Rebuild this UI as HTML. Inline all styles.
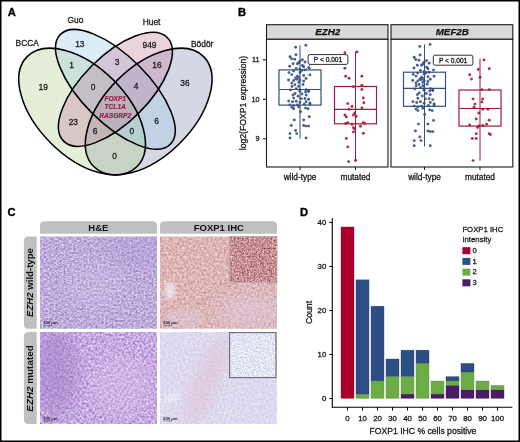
<!DOCTYPE html>
<html><head><meta charset="utf-8"><style>
html,body{margin:0;padding:0;background:#fff;position:relative;}
svg{display:block;}
text{font-family:"Liberation Sans",sans-serif;}
</style></head><body>
<svg width="520" height="442" viewBox="0 0 520 442">
<defs>
<filter id="blur2" x="-50%" y="-50%" width="200%" height="200%"><feGaussianBlur stdDeviation="2"/></filter>
<filter id="blur3" x="-50%" y="-50%" width="200%" height="200%"><feGaussianBlur stdDeviation="3"/></filter>
<filter id="blur5" x="-50%" y="-50%" width="200%" height="200%"><feGaussianBlur stdDeviation="5"/></filter>
<filter id="blur8" x="-50%" y="-50%" width="200%" height="200%"><feGaussianBlur stdDeviation="8"/></filter>
<filter id="t11" x="0" y="0" width="1" height="1" color-interpolation-filters="sRGB"><feTurbulence type="fractalNoise" baseFrequency="0.5" numOctaves="2" seed="11"/><feColorMatrix type="matrix" values="0.505 0 0 0 0.485 0.571 0 0 0 0.389 0.346 0 0 0 0.682 0 0 0 0 1"/><feGaussianBlur stdDeviation="0.35"/></filter>
<filter id="t21" x="0" y="0" width="1" height="1" color-interpolation-filters="sRGB"><feTurbulence type="fractalNoise" baseFrequency="0.45" numOctaves="2" seed="21"/><feColorMatrix type="matrix" values="0.541 0 0 0 0.506 0.671 0 0 0 0.331 0.353 0 0 0 0.702 0 0 0 0 1"/><feGaussianBlur stdDeviation="0.35"/></filter>
<filter id="t31" x="0" y="0" width="1" height="1" color-interpolation-filters="sRGB"><feTurbulence type="fractalNoise" baseFrequency="0.45" numOctaves="2" seed="31"/><feColorMatrix type="matrix" values="0.296 0 0 0 0.715 0.489 0 0 0 0.465 0.513 0 0 0 0.449 0 0 0 0 1"/><feGaussianBlur stdDeviation="0.35"/></filter>
<filter id="t41" x="0" y="0" width="1" height="1" color-interpolation-filters="sRGB"><feTurbulence type="fractalNoise" baseFrequency="0.45" numOctaves="2" seed="41"/><feColorMatrix type="matrix" values="0.180 0 0 0 0.780 0.196 0 0 0 0.757 0.118 0 0 0 0.882 0 0 0 0 1"/><feGaussianBlur stdDeviation="0.35"/></filter>
<filter id="t61" x="0" y="0" width="1" height="1" color-interpolation-filters="sRGB"><feTurbulence type="fractalNoise" baseFrequency="0.6" numOctaves="2" seed="61"/><feColorMatrix type="matrix" values="0.718 0 0 0 0.410 0.900 0 0 0 0.107 0.865 0 0 0 0.140 0 0 0 0 1"/><feGaussianBlur stdDeviation="0.35"/></filter>
<filter id="t71" x="0" y="0" width="1" height="1" color-interpolation-filters="sRGB"><feTurbulence type="fractalNoise" baseFrequency="0.7" numOctaves="2" seed="71"/><feColorMatrix type="matrix" values="0.439 0 0 0 0.675 0.428 0 0 0 0.680 0.275 0 0 0 0.820 0 0 0 0 1"/><feGaussianBlur stdDeviation="0.35"/></filter>
</defs>
<rect x="0" y="0" width="520" height="442" fill="#fff"/>

<ellipse cx="148.70" cy="111.56" rx="77.70" ry="44.40" transform="rotate(-45 148.70 111.56)" fill="rgb(120,130,170)" fill-opacity="0.315"/>
<ellipse cx="82.10" cy="111.56" rx="77.70" ry="44.40" transform="rotate(-135 82.10 111.56)" fill="rgb(168,202,132)" fill-opacity="0.315"/>
<ellipse cx="115.40" cy="89.36" rx="77.70" ry="33.30" transform="rotate(-135 115.40 89.36)" fill="rgb(147,199,228)" fill-opacity="0.315"/>
<ellipse cx="115.40" cy="89.36" rx="73.26" ry="33.30" transform="rotate(-45 115.40 89.36)" fill="rgb(192,114,151)" fill-opacity="0.315"/>
<ellipse cx="82.10" cy="111.56" rx="77.70" ry="44.40" transform="rotate(-135 82.10 111.56)" fill="none" stroke="#000" stroke-width="1.55"/>
<ellipse cx="115.40" cy="89.36" rx="77.70" ry="33.30" transform="rotate(-135 115.40 89.36)" fill="none" stroke="#000" stroke-width="1.55"/>
<ellipse cx="115.40" cy="89.36" rx="73.26" ry="33.30" transform="rotate(-45 115.40 89.36)" fill="none" stroke="#000" stroke-width="1.55"/>
<ellipse cx="148.70" cy="111.56" rx="77.70" ry="44.40" transform="rotate(-45 148.70 111.56)" fill="none" stroke="#000" stroke-width="1.55"/>
<rect x="266.5" y="24.7" width="121.5" height="14.6" fill="#d9d9d9" stroke="#1a1a1a" stroke-width="1.1"/>
<rect x="266.5" y="39.3" width="121.5" height="127.7" fill="#fff" stroke="#1a1a1a" stroke-width="1.1"/>
<line x1="300.0" y1="45.4" x2="300.0" y2="138.5" stroke="#34507f" stroke-width="1.0"/>
<rect x="279.0" y="69.9" width="42" height="35.19999999999999" fill="#fff" fill-opacity="0" stroke="#34507f" stroke-width="1.2"/>
<line x1="279.0" y1="89.5" x2="321.0" y2="89.5" stroke="#34507f" stroke-width="1.2"/>
<circle cx="295.6" cy="47.2" r="1.45" fill="#34507f" fill-opacity="0.9"/>
<circle cx="305.9" cy="45.2" r="1.45" fill="#34507f" fill-opacity="0.9"/>
<circle cx="295.9" cy="54.7" r="1.45" fill="#34507f" fill-opacity="0.9"/>
<circle cx="290.0" cy="56.8" r="1.45" fill="#34507f" fill-opacity="0.9"/>
<circle cx="291.5" cy="58.7" r="1.45" fill="#34507f" fill-opacity="0.9"/>
<circle cx="294.7" cy="59.3" r="1.45" fill="#34507f" fill-opacity="0.9"/>
<circle cx="302.4" cy="59.7" r="1.45" fill="#34507f" fill-opacity="0.9"/>
<circle cx="299.9" cy="61.2" r="1.45" fill="#34507f" fill-opacity="0.9"/>
<circle cx="293.1" cy="63.7" r="1.45" fill="#34507f" fill-opacity="0.9"/>
<circle cx="297.4" cy="63.7" r="1.45" fill="#34507f" fill-opacity="0.9"/>
<circle cx="298.7" cy="62.7" r="1.45" fill="#34507f" fill-opacity="0.9"/>
<circle cx="289.7" cy="66.2" r="1.45" fill="#34507f" fill-opacity="0.9"/>
<circle cx="302.4" cy="65.5" r="1.45" fill="#34507f" fill-opacity="0.9"/>
<circle cx="303.7" cy="66.8" r="1.45" fill="#34507f" fill-opacity="0.9"/>
<circle cx="296.2" cy="68.4" r="1.45" fill="#34507f" fill-opacity="0.9"/>
<circle cx="299.9" cy="69.3" r="1.45" fill="#34507f" fill-opacity="0.9"/>
<circle cx="301.8" cy="70.5" r="1.45" fill="#34507f" fill-opacity="0.9"/>
<circle cx="304.9" cy="69.9" r="1.45" fill="#34507f" fill-opacity="0.9"/>
<circle cx="309.3" cy="68.0" r="1.45" fill="#34507f" fill-opacity="0.9"/>
<circle cx="289.0" cy="72.6" r="1.45" fill="#34507f" fill-opacity="0.9"/>
<circle cx="291.8" cy="74.6" r="1.45" fill="#34507f" fill-opacity="0.9"/>
<circle cx="297.4" cy="76.1" r="1.45" fill="#34507f" fill-opacity="0.9"/>
<circle cx="298.7" cy="77.4" r="1.45" fill="#34507f" fill-opacity="0.9"/>
<circle cx="303.7" cy="75.5" r="1.45" fill="#34507f" fill-opacity="0.9"/>
<circle cx="309.9" cy="74.9" r="1.45" fill="#34507f" fill-opacity="0.9"/>
<circle cx="295.6" cy="78.0" r="1.45" fill="#34507f" fill-opacity="0.9"/>
<circle cx="296.8" cy="79.2" r="1.45" fill="#34507f" fill-opacity="0.9"/>
<circle cx="299.9" cy="79.9" r="1.45" fill="#34507f" fill-opacity="0.9"/>
<circle cx="293.7" cy="80.5" r="1.45" fill="#34507f" fill-opacity="0.9"/>
<circle cx="303.7" cy="81.1" r="1.45" fill="#34507f" fill-opacity="0.9"/>
<circle cx="291.8" cy="83.0" r="1.45" fill="#34507f" fill-opacity="0.9"/>
<circle cx="298.7" cy="82.3" r="1.45" fill="#34507f" fill-opacity="0.9"/>
<circle cx="294.9" cy="84.8" r="1.45" fill="#34507f" fill-opacity="0.9"/>
<circle cx="298.7" cy="86.3" r="1.45" fill="#34507f" fill-opacity="0.9"/>
<circle cx="296.2" cy="88.6" r="1.45" fill="#34507f" fill-opacity="0.9"/>
<circle cx="299.9" cy="89.8" r="1.45" fill="#34507f" fill-opacity="0.9"/>
<circle cx="306.1" cy="89.8" r="1.45" fill="#34507f" fill-opacity="0.9"/>
<circle cx="308.6" cy="91.1" r="1.45" fill="#34507f" fill-opacity="0.9"/>
<circle cx="299.9" cy="91.2" r="1.45" fill="#34507f" fill-opacity="0.9"/>
<circle cx="305.5" cy="91.9" r="1.45" fill="#34507f" fill-opacity="0.9"/>
<circle cx="308.6" cy="91.5" r="1.45" fill="#34507f" fill-opacity="0.9"/>
<circle cx="293.1" cy="95.0" r="1.45" fill="#34507f" fill-opacity="0.9"/>
<circle cx="298.1" cy="96.2" r="1.45" fill="#34507f" fill-opacity="0.9"/>
<circle cx="306.1" cy="95.0" r="1.45" fill="#34507f" fill-opacity="0.9"/>
<circle cx="293.7" cy="98.1" r="1.45" fill="#34507f" fill-opacity="0.9"/>
<circle cx="301.2" cy="98.7" r="1.45" fill="#34507f" fill-opacity="0.9"/>
<circle cx="304.9" cy="98.5" r="1.45" fill="#34507f" fill-opacity="0.9"/>
<circle cx="308.6" cy="99.3" r="1.45" fill="#34507f" fill-opacity="0.9"/>
<circle cx="288.7" cy="101.0" r="1.45" fill="#34507f" fill-opacity="0.9"/>
<circle cx="292.5" cy="101.8" r="1.45" fill="#34507f" fill-opacity="0.9"/>
<circle cx="296.2" cy="101.2" r="1.45" fill="#34507f" fill-opacity="0.9"/>
<circle cx="299.9" cy="102.5" r="1.45" fill="#34507f" fill-opacity="0.9"/>
<circle cx="306.1" cy="101.8" r="1.45" fill="#34507f" fill-opacity="0.9"/>
<circle cx="309.9" cy="103.1" r="1.45" fill="#34507f" fill-opacity="0.9"/>
<circle cx="290.0" cy="104.9" r="1.45" fill="#34507f" fill-opacity="0.9"/>
<circle cx="293.7" cy="105.6" r="1.45" fill="#34507f" fill-opacity="0.9"/>
<circle cx="297.4" cy="104.9" r="1.45" fill="#34507f" fill-opacity="0.9"/>
<circle cx="304.3" cy="104.3" r="1.45" fill="#34507f" fill-opacity="0.9"/>
<circle cx="309.9" cy="104.3" r="1.45" fill="#34507f" fill-opacity="0.9"/>
<circle cx="291.8" cy="107.4" r="1.45" fill="#34507f" fill-opacity="0.9"/>
<circle cx="298.7" cy="106.8" r="1.45" fill="#34507f" fill-opacity="0.9"/>
<circle cx="305.5" cy="108.1" r="1.45" fill="#34507f" fill-opacity="0.9"/>
<circle cx="308.0" cy="108.7" r="1.45" fill="#34507f" fill-opacity="0.9"/>
<circle cx="293.7" cy="108.7" r="1.45" fill="#34507f" fill-opacity="0.9"/>
<circle cx="300.5" cy="111.8" r="1.45" fill="#34507f" fill-opacity="0.9"/>
<circle cx="309.3" cy="116.8" r="1.45" fill="#34507f" fill-opacity="0.9"/>
<circle cx="294.3" cy="119.9" r="1.45" fill="#34507f" fill-opacity="0.9"/>
<circle cx="303.7" cy="119.9" r="1.45" fill="#34507f" fill-opacity="0.9"/>
<circle cx="291.2" cy="125.5" r="1.45" fill="#34507f" fill-opacity="0.9"/>
<circle cx="303.7" cy="125.5" r="1.45" fill="#34507f" fill-opacity="0.9"/>
<circle cx="306.1" cy="126.1" r="1.45" fill="#34507f" fill-opacity="0.9"/>
<circle cx="308.6" cy="126.1" r="1.45" fill="#34507f" fill-opacity="0.9"/>
<circle cx="295.6" cy="130.5" r="1.45" fill="#34507f" fill-opacity="0.9"/>
<circle cx="296.8" cy="133.6" r="1.45" fill="#34507f" fill-opacity="0.9"/>
<circle cx="290.0" cy="133.6" r="1.45" fill="#34507f" fill-opacity="0.9"/>
<circle cx="290.0" cy="137.9" r="1.45" fill="#34507f" fill-opacity="0.9"/>
<circle cx="306.1" cy="137.9" r="1.45" fill="#34507f" fill-opacity="0.9"/>
<circle cx="292.0" cy="86.5" r="1.45" fill="#34507f" fill-opacity="0.9"/>
<circle cx="303.0" cy="84.5" r="1.45" fill="#34507f" fill-opacity="0.9"/>
<circle cx="295.0" cy="93.5" r="1.45" fill="#34507f" fill-opacity="0.9"/>
<circle cx="302.0" cy="94.0" r="1.45" fill="#34507f" fill-opacity="0.9"/>
<circle cx="290.5" cy="90.0" r="1.45" fill="#34507f" fill-opacity="0.9"/>
<circle cx="300.0" cy="72.5" r="1.45" fill="#34507f" fill-opacity="0.9"/>
<circle cx="293.5" cy="71.0" r="1.45" fill="#34507f" fill-opacity="0.9"/>
<circle cx="306.0" cy="78.5" r="1.45" fill="#34507f" fill-opacity="0.9"/>
<circle cx="288.5" cy="80.0" r="1.45" fill="#34507f" fill-opacity="0.9"/>
<circle cx="305.0" cy="62.0" r="1.45" fill="#34507f" fill-opacity="0.9"/>
<line x1="355.5" y1="51.7" x2="355.5" y2="160.8" stroke="#a0193c" stroke-width="1.0"/>
<rect x="334.5" y="86.5" width="42" height="37.3" fill="#fff" fill-opacity="0" stroke="#a0193c" stroke-width="1.2"/>
<line x1="334.5" y1="109.4" x2="376.5" y2="109.4" stroke="#a0193c" stroke-width="1.2"/>
<circle cx="344.9" cy="52.7" r="1.45" fill="#a0193c" fill-opacity="0.9"/>
<circle cx="357.0" cy="51.9" r="1.45" fill="#a0193c" fill-opacity="0.9"/>
<circle cx="344.9" cy="68.3" r="1.45" fill="#a0193c" fill-opacity="0.9"/>
<circle cx="345.7" cy="76.2" r="1.45" fill="#a0193c" fill-opacity="0.9"/>
<circle cx="349.1" cy="78.2" r="1.45" fill="#a0193c" fill-opacity="0.9"/>
<circle cx="361.9" cy="76.2" r="1.45" fill="#a0193c" fill-opacity="0.9"/>
<circle cx="353.4" cy="86.7" r="1.45" fill="#a0193c" fill-opacity="0.9"/>
<circle cx="361.9" cy="85.2" r="1.45" fill="#a0193c" fill-opacity="0.9"/>
<circle cx="361.9" cy="89.5" r="1.45" fill="#a0193c" fill-opacity="0.9"/>
<circle cx="363.3" cy="98.0" r="1.45" fill="#a0193c" fill-opacity="0.9"/>
<circle cx="347.7" cy="103.6" r="1.45" fill="#a0193c" fill-opacity="0.9"/>
<circle cx="352.0" cy="106.5" r="1.45" fill="#a0193c" fill-opacity="0.9"/>
<circle cx="363.8" cy="102.8" r="1.45" fill="#a0193c" fill-opacity="0.9"/>
<circle cx="361.9" cy="107.9" r="1.45" fill="#a0193c" fill-opacity="0.9"/>
<circle cx="349.1" cy="109.3" r="1.45" fill="#a0193c" fill-opacity="0.9"/>
<circle cx="344.9" cy="115.0" r="1.45" fill="#a0193c" fill-opacity="0.9"/>
<circle cx="354.8" cy="113.0" r="1.45" fill="#a0193c" fill-opacity="0.9"/>
<circle cx="353.4" cy="115.0" r="1.45" fill="#a0193c" fill-opacity="0.9"/>
<circle cx="356.2" cy="116.4" r="1.45" fill="#a0193c" fill-opacity="0.9"/>
<circle cx="346.3" cy="116.9" r="1.45" fill="#a0193c" fill-opacity="0.9"/>
<circle cx="347.7" cy="122.6" r="1.45" fill="#a0193c" fill-opacity="0.9"/>
<circle cx="345.7" cy="123.4" r="1.45" fill="#a0193c" fill-opacity="0.9"/>
<circle cx="352.0" cy="124.3" r="1.45" fill="#a0193c" fill-opacity="0.9"/>
<circle cx="363.3" cy="122.6" r="1.45" fill="#a0193c" fill-opacity="0.9"/>
<circle cx="364.7" cy="123.4" r="1.45" fill="#a0193c" fill-opacity="0.9"/>
<circle cx="353.4" cy="127.7" r="1.45" fill="#a0193c" fill-opacity="0.9"/>
<circle cx="354.8" cy="129.1" r="1.45" fill="#a0193c" fill-opacity="0.9"/>
<circle cx="360.5" cy="126.3" r="1.45" fill="#a0193c" fill-opacity="0.9"/>
<circle cx="353.4" cy="131.9" r="1.45" fill="#a0193c" fill-opacity="0.9"/>
<circle cx="363.3" cy="133.3" r="1.45" fill="#a0193c" fill-opacity="0.9"/>
<circle cx="346.3" cy="138.4" r="1.45" fill="#a0193c" fill-opacity="0.9"/>
<circle cx="347.7" cy="146.9" r="1.45" fill="#a0193c" fill-opacity="0.9"/>
<circle cx="348.6" cy="161.6" r="1.45" fill="#a0193c" fill-opacity="0.9"/>
<circle cx="355.7" cy="160.5" r="1.45" fill="#a0193c" fill-opacity="0.9"/>
<line x1="300.0" y1="167" x2="300.0" y2="170" stroke="#1a1a1a" stroke-width="1"/>
<line x1="355.5" y1="167" x2="355.5" y2="170" stroke="#1a1a1a" stroke-width="1"/>
<rect x="391.0" y="24.7" width="121.79999999999995" height="14.6" fill="#d9d9d9" stroke="#1a1a1a" stroke-width="1.1"/>
<rect x="391.0" y="39.3" width="121.79999999999995" height="127.7" fill="#fff" stroke="#1a1a1a" stroke-width="1.1"/>
<line x1="424.5" y1="44.4" x2="424.5" y2="146.5" stroke="#34507f" stroke-width="1.0"/>
<rect x="403.5" y="72.2" width="42" height="34.099999999999994" fill="#fff" fill-opacity="0" stroke="#34507f" stroke-width="1.2"/>
<line x1="403.5" y1="88.3" x2="445.5" y2="88.3" stroke="#34507f" stroke-width="1.2"/>
<circle cx="419.8" cy="46.4" r="1.45" fill="#34507f" fill-opacity="0.9"/>
<circle cx="430.1" cy="44.4" r="1.45" fill="#34507f" fill-opacity="0.9"/>
<circle cx="420.1" cy="55.0" r="1.45" fill="#34507f" fill-opacity="0.9"/>
<circle cx="414.2" cy="57.3" r="1.45" fill="#34507f" fill-opacity="0.9"/>
<circle cx="415.7" cy="59.5" r="1.45" fill="#34507f" fill-opacity="0.9"/>
<circle cx="418.9" cy="60.2" r="1.45" fill="#34507f" fill-opacity="0.9"/>
<circle cx="426.6" cy="60.6" r="1.45" fill="#34507f" fill-opacity="0.9"/>
<circle cx="424.1" cy="62.3" r="1.45" fill="#34507f" fill-opacity="0.9"/>
<circle cx="417.3" cy="65.2" r="1.45" fill="#34507f" fill-opacity="0.9"/>
<circle cx="421.6" cy="65.2" r="1.45" fill="#34507f" fill-opacity="0.9"/>
<circle cx="422.9" cy="64.0" r="1.45" fill="#34507f" fill-opacity="0.9"/>
<circle cx="413.9" cy="68.0" r="1.45" fill="#34507f" fill-opacity="0.9"/>
<circle cx="426.6" cy="67.2" r="1.45" fill="#34507f" fill-opacity="0.9"/>
<circle cx="427.9" cy="68.7" r="1.45" fill="#34507f" fill-opacity="0.9"/>
<circle cx="420.4" cy="70.5" r="1.45" fill="#34507f" fill-opacity="0.9"/>
<circle cx="424.1" cy="71.5" r="1.45" fill="#34507f" fill-opacity="0.9"/>
<circle cx="426.0" cy="72.7" r="1.45" fill="#34507f" fill-opacity="0.9"/>
<circle cx="429.1" cy="72.2" r="1.45" fill="#34507f" fill-opacity="0.9"/>
<circle cx="433.5" cy="70.0" r="1.45" fill="#34507f" fill-opacity="0.9"/>
<circle cx="413.2" cy="74.4" r="1.45" fill="#34507f" fill-opacity="0.9"/>
<circle cx="416.0" cy="76.1" r="1.45" fill="#34507f" fill-opacity="0.9"/>
<circle cx="421.6" cy="77.3" r="1.45" fill="#34507f" fill-opacity="0.9"/>
<circle cx="422.9" cy="78.4" r="1.45" fill="#34507f" fill-opacity="0.9"/>
<circle cx="427.9" cy="76.8" r="1.45" fill="#34507f" fill-opacity="0.9"/>
<circle cx="434.1" cy="76.3" r="1.45" fill="#34507f" fill-opacity="0.9"/>
<circle cx="419.8" cy="78.9" r="1.45" fill="#34507f" fill-opacity="0.9"/>
<circle cx="421.0" cy="79.8" r="1.45" fill="#34507f" fill-opacity="0.9"/>
<circle cx="424.1" cy="80.4" r="1.45" fill="#34507f" fill-opacity="0.9"/>
<circle cx="417.9" cy="80.9" r="1.45" fill="#34507f" fill-opacity="0.9"/>
<circle cx="427.9" cy="81.4" r="1.45" fill="#34507f" fill-opacity="0.9"/>
<circle cx="416.0" cy="83.0" r="1.45" fill="#34507f" fill-opacity="0.9"/>
<circle cx="422.9" cy="82.4" r="1.45" fill="#34507f" fill-opacity="0.9"/>
<circle cx="419.1" cy="84.4" r="1.45" fill="#34507f" fill-opacity="0.9"/>
<circle cx="422.9" cy="85.7" r="1.45" fill="#34507f" fill-opacity="0.9"/>
<circle cx="420.4" cy="87.6" r="1.45" fill="#34507f" fill-opacity="0.9"/>
<circle cx="424.1" cy="88.6" r="1.45" fill="#34507f" fill-opacity="0.9"/>
<circle cx="430.3" cy="88.6" r="1.45" fill="#34507f" fill-opacity="0.9"/>
<circle cx="432.8" cy="90.1" r="1.45" fill="#34507f" fill-opacity="0.9"/>
<circle cx="424.1" cy="90.3" r="1.45" fill="#34507f" fill-opacity="0.9"/>
<circle cx="429.7" cy="91.1" r="1.45" fill="#34507f" fill-opacity="0.9"/>
<circle cx="432.8" cy="90.6" r="1.45" fill="#34507f" fill-opacity="0.9"/>
<circle cx="417.3" cy="94.6" r="1.45" fill="#34507f" fill-opacity="0.9"/>
<circle cx="422.3" cy="96.0" r="1.45" fill="#34507f" fill-opacity="0.9"/>
<circle cx="430.3" cy="94.6" r="1.45" fill="#34507f" fill-opacity="0.9"/>
<circle cx="417.9" cy="98.2" r="1.45" fill="#34507f" fill-opacity="0.9"/>
<circle cx="425.4" cy="98.9" r="1.45" fill="#34507f" fill-opacity="0.9"/>
<circle cx="429.1" cy="98.7" r="1.45" fill="#34507f" fill-opacity="0.9"/>
<circle cx="432.8" cy="99.6" r="1.45" fill="#34507f" fill-opacity="0.9"/>
<circle cx="412.9" cy="101.6" r="1.45" fill="#34507f" fill-opacity="0.9"/>
<circle cx="416.7" cy="102.5" r="1.45" fill="#34507f" fill-opacity="0.9"/>
<circle cx="420.4" cy="101.8" r="1.45" fill="#34507f" fill-opacity="0.9"/>
<circle cx="424.1" cy="103.3" r="1.45" fill="#34507f" fill-opacity="0.9"/>
<circle cx="430.3" cy="102.5" r="1.45" fill="#34507f" fill-opacity="0.9"/>
<circle cx="434.1" cy="104.0" r="1.45" fill="#34507f" fill-opacity="0.9"/>
<circle cx="414.2" cy="106.1" r="1.45" fill="#34507f" fill-opacity="0.9"/>
<circle cx="417.9" cy="106.9" r="1.45" fill="#34507f" fill-opacity="0.9"/>
<circle cx="421.6" cy="106.1" r="1.45" fill="#34507f" fill-opacity="0.9"/>
<circle cx="428.5" cy="105.4" r="1.45" fill="#34507f" fill-opacity="0.9"/>
<circle cx="434.1" cy="105.4" r="1.45" fill="#34507f" fill-opacity="0.9"/>
<circle cx="416.0" cy="109.1" r="1.45" fill="#34507f" fill-opacity="0.9"/>
<circle cx="422.9" cy="108.3" r="1.45" fill="#34507f" fill-opacity="0.9"/>
<circle cx="429.7" cy="109.9" r="1.45" fill="#34507f" fill-opacity="0.9"/>
<circle cx="432.2" cy="110.6" r="1.45" fill="#34507f" fill-opacity="0.9"/>
<circle cx="417.9" cy="110.6" r="1.45" fill="#34507f" fill-opacity="0.9"/>
<circle cx="424.7" cy="114.4" r="1.45" fill="#34507f" fill-opacity="0.9"/>
<circle cx="433.5" cy="120.4" r="1.45" fill="#34507f" fill-opacity="0.9"/>
<circle cx="418.5" cy="124.1" r="1.45" fill="#34507f" fill-opacity="0.9"/>
<circle cx="427.9" cy="124.1" r="1.45" fill="#34507f" fill-opacity="0.9"/>
<circle cx="415.4" cy="130.9" r="1.45" fill="#34507f" fill-opacity="0.9"/>
<circle cx="427.9" cy="130.9" r="1.45" fill="#34507f" fill-opacity="0.9"/>
<circle cx="430.3" cy="131.6" r="1.45" fill="#34507f" fill-opacity="0.9"/>
<circle cx="432.8" cy="131.6" r="1.45" fill="#34507f" fill-opacity="0.9"/>
<circle cx="419.8" cy="136.9" r="1.45" fill="#34507f" fill-opacity="0.9"/>
<circle cx="421.0" cy="140.6" r="1.45" fill="#34507f" fill-opacity="0.9"/>
<circle cx="414.2" cy="140.6" r="1.45" fill="#34507f" fill-opacity="0.9"/>
<circle cx="414.2" cy="145.8" r="1.45" fill="#34507f" fill-opacity="0.9"/>
<circle cx="430.3" cy="145.8" r="1.45" fill="#34507f" fill-opacity="0.9"/>
<circle cx="416.2" cy="85.8" r="1.45" fill="#34507f" fill-opacity="0.9"/>
<circle cx="427.2" cy="84.2" r="1.45" fill="#34507f" fill-opacity="0.9"/>
<circle cx="419.2" cy="92.9" r="1.45" fill="#34507f" fill-opacity="0.9"/>
<circle cx="426.2" cy="93.5" r="1.45" fill="#34507f" fill-opacity="0.9"/>
<circle cx="414.7" cy="88.9" r="1.45" fill="#34507f" fill-opacity="0.9"/>
<circle cx="424.2" cy="74.3" r="1.45" fill="#34507f" fill-opacity="0.9"/>
<circle cx="417.7" cy="73.1" r="1.45" fill="#34507f" fill-opacity="0.9"/>
<circle cx="430.2" cy="79.3" r="1.45" fill="#34507f" fill-opacity="0.9"/>
<circle cx="412.7" cy="80.5" r="1.45" fill="#34507f" fill-opacity="0.9"/>
<circle cx="429.2" cy="63.2" r="1.45" fill="#34507f" fill-opacity="0.9"/>
<line x1="480.0" y1="58.7" x2="480.0" y2="160.6" stroke="#a0193c" stroke-width="1.0"/>
<rect x="459.0" y="90.0" width="42" height="36.099999999999994" fill="#fff" fill-opacity="0" stroke="#a0193c" stroke-width="1.2"/>
<line x1="459.0" y1="108.5" x2="501.0" y2="108.5" stroke="#a0193c" stroke-width="1.2"/>
<circle cx="484.0" cy="59.9" r="1.45" fill="#a0193c" fill-opacity="0.9"/>
<circle cx="478.3" cy="69.5" r="1.45" fill="#a0193c" fill-opacity="0.9"/>
<circle cx="489.2" cy="68.7" r="1.45" fill="#a0193c" fill-opacity="0.9"/>
<circle cx="469.7" cy="74.7" r="1.45" fill="#a0193c" fill-opacity="0.9"/>
<circle cx="471.5" cy="79.1" r="1.45" fill="#a0193c" fill-opacity="0.9"/>
<circle cx="480.1" cy="77.3" r="1.45" fill="#a0193c" fill-opacity="0.9"/>
<circle cx="481.9" cy="89.6" r="1.45" fill="#a0193c" fill-opacity="0.9"/>
<circle cx="489.2" cy="89.6" r="1.45" fill="#a0193c" fill-opacity="0.9"/>
<circle cx="473.1" cy="98.9" r="1.45" fill="#a0193c" fill-opacity="0.9"/>
<circle cx="482.7" cy="98.9" r="1.45" fill="#a0193c" fill-opacity="0.9"/>
<circle cx="481.9" cy="102.0" r="1.45" fill="#a0193c" fill-opacity="0.9"/>
<circle cx="474.9" cy="104.1" r="1.45" fill="#a0193c" fill-opacity="0.9"/>
<circle cx="474.1" cy="107.2" r="1.45" fill="#a0193c" fill-opacity="0.9"/>
<circle cx="482.7" cy="109.3" r="1.45" fill="#a0193c" fill-opacity="0.9"/>
<circle cx="487.9" cy="109.3" r="1.45" fill="#a0193c" fill-opacity="0.9"/>
<circle cx="478.8" cy="113.0" r="1.45" fill="#a0193c" fill-opacity="0.9"/>
<circle cx="476.2" cy="119.0" r="1.45" fill="#a0193c" fill-opacity="0.9"/>
<circle cx="489.2" cy="120.3" r="1.45" fill="#a0193c" fill-opacity="0.9"/>
<circle cx="469.7" cy="124.9" r="1.45" fill="#a0193c" fill-opacity="0.9"/>
<circle cx="478.8" cy="126.0" r="1.45" fill="#a0193c" fill-opacity="0.9"/>
<circle cx="482.7" cy="125.5" r="1.45" fill="#a0193c" fill-opacity="0.9"/>
<circle cx="486.6" cy="124.2" r="1.45" fill="#a0193c" fill-opacity="0.9"/>
<circle cx="477.5" cy="127.5" r="1.45" fill="#a0193c" fill-opacity="0.9"/>
<circle cx="476.2" cy="133.8" r="1.45" fill="#a0193c" fill-opacity="0.9"/>
<circle cx="489.2" cy="133.8" r="1.45" fill="#a0193c" fill-opacity="0.9"/>
<circle cx="490.5" cy="134.6" r="1.45" fill="#a0193c" fill-opacity="0.9"/>
<circle cx="472.3" cy="138.5" r="1.45" fill="#a0193c" fill-opacity="0.9"/>
<circle cx="476.2" cy="138.5" r="1.45" fill="#a0193c" fill-opacity="0.9"/>
<circle cx="473.1" cy="160.6" r="1.45" fill="#a0193c" fill-opacity="0.9"/>
<line x1="424.5" y1="167" x2="424.5" y2="170" stroke="#1a1a1a" stroke-width="1"/>
<line x1="480.0" y1="167" x2="480.0" y2="170" stroke="#1a1a1a" stroke-width="1"/>
<line x1="310" y1="64.6" x2="306.5" y2="68.8" stroke="#333" stroke-width="0.8"/>
<rect x="308.1" y="54.6" width="39.8" height="9.8" rx="1.8" fill="#fff" stroke="#1a1a1a" stroke-width="0.9"/>
<rect x="433.3" y="55.2" width="39.6" height="10.0" rx="1.8" fill="#fff" stroke="#1a1a1a" stroke-width="0.9"/>
<line x1="263" y1="59.8" x2="266.5" y2="59.8" stroke="#1a1a1a" stroke-width="1.1"/>
<line x1="263" y1="99.3" x2="266.5" y2="99.3" stroke="#1a1a1a" stroke-width="1.1"/>
<line x1="263" y1="138.8" x2="266.5" y2="138.8" stroke="#1a1a1a" stroke-width="1.1"/>
<path d="M44.5,221.2 H152.5 Q157,221.2 157,225.7 V233.79999999999998 H40 V225.7 Q40,221.2 44.5,221.2 Z" fill="#bfbfbf"/>
<path d="M164.5,221.2 H272.5 Q277,221.2 277,225.7 V233.79999999999998 H160 V225.7 Q160,221.2 164.5,221.2 Z" fill="#bfbfbf"/>
<path d="M28.4,236.5 H36.7 V328.7 H28.4 Q23.9,328.7 23.9,324.2 V241.0 Q23.9,236.5 28.4,236.5 Z" fill="#bfbfbf"/>
<path d="M28.4,332.0 H36.7 V424.0 H28.4 Q23.9,424.0 23.9,419.5 V336.5 Q23.9,332.0 28.4,332.0 Z" fill="#bfbfbf"/>
<svg x="40" y="236.5" width="117" height="92.2" overflow="hidden">
<rect x="0" y="0" width="117" height="92.2" filter="url(#t11)"/>
<ellipse cx="100" cy="13.5" rx="30" ry="20" fill="#a590cf" opacity="0.22" filter="url(#blur8)" transform="rotate(0 100 13.5)"/>
<ellipse cx="55" cy="48.5" rx="30" ry="25" fill="#ddd3f2" opacity="0.2" filter="url(#blur8)" transform="rotate(0 55 48.5)"/>
</svg>
<svg x="40" y="332" width="117" height="92" overflow="hidden">
<rect x="0" y="0" width="117" height="92" filter="url(#t21)"/>
<ellipse cx="15" cy="40" rx="22" ry="45" fill="#9a74c0" opacity="0.45" filter="url(#blur8)" transform="rotate(0 15 40)"/>
<ellipse cx="80" cy="53" rx="30" ry="30" fill="#e2cbee" opacity="0.3" filter="url(#blur8)" transform="rotate(0 80 53)"/>
</svg>
<svg x="160" y="236.5" width="117" height="92.2" overflow="hidden">
<rect x="0" y="0" width="117" height="92.2" filter="url(#t31)"/>
<ellipse cx="10" cy="54.5" rx="5" ry="9" fill="#eeeaf4" opacity="0.85" filter="url(#blur2)" transform="rotate(0 10 54.5)"/>
<ellipse cx="90" cy="75.5" rx="35" ry="18" fill="#dccde6" opacity="0.5" filter="url(#blur8)" transform="rotate(0 90 75.5)"/>
<ellipse cx="25" cy="81.5" rx="20" ry="10" fill="#dccde6" opacity="0.4" filter="url(#blur6)" transform="rotate(0 25 81.5)"/>
</svg>
<svg x="160" y="332" width="117" height="92" overflow="hidden">
<rect x="0" y="0" width="117" height="92" filter="url(#t41)"/>
<ellipse cx="46" cy="50" rx="12" ry="50" fill="#e0bcc8" opacity="0.5" filter="url(#blur8)" transform="rotate(22 46 50)"/>
<ellipse cx="12" cy="66" rx="9" ry="2.2" fill="#f6f4fa" opacity="0.8" filter="url(#blur2)" transform="rotate(-25 12 66)"/>
</svg>
<svg x="229.3" y="236.5" width="47.7" height="46" overflow="hidden">
<rect x="0" y="0" width="47.7" height="46" filter="url(#t61)"/>
</svg>
<rect x="229.3" y="236.5" width="47.7" height="46" fill="none" stroke="#b8a8b8" stroke-width="0.8"/>
<svg x="229.6" y="332.6" width="46.4" height="45" overflow="hidden">
<rect x="0" y="0" width="46.4" height="45" filter="url(#t71)"/>
</svg>
<rect x="229.6" y="332.6" width="46.4" height="45" fill="none" stroke="#6a6a72" stroke-width="1.1"/>
<line x1="43.3" y1="325.6" x2="52" y2="325.6" stroke="#2a1f33" stroke-width="0.6" stroke-opacity="0.7"/>
<line x1="43.3" y1="421.0" x2="52" y2="421.0" stroke="#2a1f33" stroke-width="0.6" stroke-opacity="0.7"/>
<line x1="163.3" y1="325.6" x2="172" y2="325.6" stroke="#2a1f33" stroke-width="0.6" stroke-opacity="0.7"/>
<line x1="163.3" y1="421.0" x2="172" y2="421.0" stroke="#2a1f33" stroke-width="0.6" stroke-opacity="0.7"/>
<rect x="340.9" y="226.90" width="13.2" height="171.60" fill="#a9002e" stroke="#000" stroke-opacity="0.18" stroke-width="0.5"/>
<rect x="355.9" y="394.10" width="13.2" height="4.40" fill="#6aad45" stroke="#000" stroke-opacity="0.18" stroke-width="0.5"/>
<rect x="355.9" y="279.70" width="13.2" height="114.40" fill="#2d4d85" stroke="#000" stroke-opacity="0.18" stroke-width="0.5"/>
<rect x="370.9" y="380.90" width="13.2" height="17.60" fill="#6aad45" stroke="#000" stroke-opacity="0.18" stroke-width="0.5"/>
<rect x="370.9" y="306.10" width="13.2" height="74.80" fill="#2d4d85" stroke="#000" stroke-opacity="0.18" stroke-width="0.5"/>
<rect x="385.9" y="376.50" width="13.2" height="22.00" fill="#6aad45" stroke="#000" stroke-opacity="0.18" stroke-width="0.5"/>
<rect x="385.9" y="358.90" width="13.2" height="17.60" fill="#2d4d85" stroke="#000" stroke-opacity="0.18" stroke-width="0.5"/>
<rect x="400.9" y="394.10" width="13.2" height="4.40" fill="#4a1c66" stroke="#000" stroke-opacity="0.18" stroke-width="0.5"/>
<rect x="400.9" y="376.50" width="13.2" height="17.60" fill="#6aad45" stroke="#000" stroke-opacity="0.18" stroke-width="0.5"/>
<rect x="400.9" y="350.10" width="13.2" height="26.40" fill="#2d4d85" stroke="#000" stroke-opacity="0.18" stroke-width="0.5"/>
<rect x="415.9" y="363.30" width="13.2" height="35.20" fill="#6aad45" stroke="#000" stroke-opacity="0.18" stroke-width="0.5"/>
<rect x="415.9" y="350.10" width="13.2" height="13.20" fill="#2d4d85" stroke="#000" stroke-opacity="0.18" stroke-width="0.5"/>
<rect x="430.9" y="394.10" width="13.2" height="4.40" fill="#4a1c66" stroke="#000" stroke-opacity="0.18" stroke-width="0.5"/>
<rect x="430.9" y="380.90" width="13.2" height="13.20" fill="#6aad45" stroke="#000" stroke-opacity="0.18" stroke-width="0.5"/>
<rect x="445.9" y="385.30" width="13.2" height="13.20" fill="#4a1c66" stroke="#000" stroke-opacity="0.18" stroke-width="0.5"/>
<rect x="445.9" y="380.90" width="13.2" height="4.40" fill="#6aad45" stroke="#000" stroke-opacity="0.18" stroke-width="0.5"/>
<rect x="445.9" y="376.50" width="13.2" height="4.40" fill="#2d4d85" stroke="#000" stroke-opacity="0.18" stroke-width="0.5"/>
<rect x="460.9" y="389.70" width="13.2" height="8.80" fill="#4a1c66" stroke="#000" stroke-opacity="0.18" stroke-width="0.5"/>
<rect x="460.9" y="372.10" width="13.2" height="17.60" fill="#6aad45" stroke="#000" stroke-opacity="0.18" stroke-width="0.5"/>
<rect x="460.9" y="363.30" width="13.2" height="8.80" fill="#2d4d85" stroke="#000" stroke-opacity="0.18" stroke-width="0.5"/>
<rect x="475.9" y="389.70" width="13.2" height="8.80" fill="#4a1c66" stroke="#000" stroke-opacity="0.18" stroke-width="0.5"/>
<rect x="475.9" y="380.90" width="13.2" height="8.80" fill="#6aad45" stroke="#000" stroke-opacity="0.18" stroke-width="0.5"/>
<rect x="490.9" y="389.70" width="13.2" height="8.80" fill="#4a1c66" stroke="#000" stroke-opacity="0.18" stroke-width="0.5"/>
<rect x="490.9" y="385.30" width="13.2" height="4.40" fill="#6aad45" stroke="#000" stroke-opacity="0.18" stroke-width="0.5"/>
<line x1="332.3" y1="218.2" x2="332.3" y2="407.7" stroke="#000" stroke-width="1.1"/>
<line x1="331.8" y1="407.2" x2="512.4" y2="407.2" stroke="#000" stroke-width="1.1"/>
<line x1="329.3" y1="398.5" x2="332.3" y2="398.5" stroke="#000" stroke-width="1"/>
<line x1="329.3" y1="354.5" x2="332.3" y2="354.5" stroke="#000" stroke-width="1"/>
<line x1="329.3" y1="310.5" x2="332.3" y2="310.5" stroke="#000" stroke-width="1"/>
<line x1="329.3" y1="266.5" x2="332.3" y2="266.5" stroke="#000" stroke-width="1"/>
<line x1="329.3" y1="222.5" x2="332.3" y2="222.5" stroke="#000" stroke-width="1"/>
<line x1="347.5" y1="407.2" x2="347.5" y2="410.5" stroke="#000" stroke-width="1"/>
<line x1="362.5" y1="407.2" x2="362.5" y2="410.5" stroke="#000" stroke-width="1"/>
<line x1="377.5" y1="407.2" x2="377.5" y2="410.5" stroke="#000" stroke-width="1"/>
<line x1="392.5" y1="407.2" x2="392.5" y2="410.5" stroke="#000" stroke-width="1"/>
<line x1="407.5" y1="407.2" x2="407.5" y2="410.5" stroke="#000" stroke-width="1"/>
<line x1="422.5" y1="407.2" x2="422.5" y2="410.5" stroke="#000" stroke-width="1"/>
<line x1="437.5" y1="407.2" x2="437.5" y2="410.5" stroke="#000" stroke-width="1"/>
<line x1="452.5" y1="407.2" x2="452.5" y2="410.5" stroke="#000" stroke-width="1"/>
<line x1="467.5" y1="407.2" x2="467.5" y2="410.5" stroke="#000" stroke-width="1"/>
<line x1="482.5" y1="407.2" x2="482.5" y2="410.5" stroke="#000" stroke-width="1"/>
<line x1="497.5" y1="407.2" x2="497.5" y2="410.5" stroke="#000" stroke-width="1"/>
<rect x="462.4" y="247.2" width="8" height="7" fill="#a9002e"/>
<rect x="462.4" y="257.9" width="8" height="7" fill="#2d4d85"/>
<rect x="462.4" y="268.6" width="8" height="7" fill="#6aad45"/>
<rect x="462.4" y="279.3" width="8" height="7" fill="#4a1c66"/>
<rect x="0.75" y="0.75" width="518.5" height="440.5" fill="none" stroke="#000" stroke-width="1.5"/>
</svg>
<svg width="520" height="442" viewBox="0 0 520 442" style="position:absolute;left:0;top:0;will-change:transform">
<text x="7.7" y="16.2" font-size="11.2" text-anchor="start" font-weight="bold" font-style="normal" fill="#000"  stroke="#000" stroke-width="0.35">A</text>
<text x="238.0" y="16.2" font-size="11.2" text-anchor="start" font-weight="bold" font-style="normal" fill="#000"  stroke="#000" stroke-width="0.35">B</text>
<text x="7.4" y="216.3" font-size="11.2" text-anchor="start" font-weight="bold" font-style="normal" fill="#000"  stroke="#000" stroke-width="0.35">C</text>
<text x="300.1" y="215.7" font-size="11.2" text-anchor="start" font-weight="bold" font-style="normal" fill="#000"  stroke="#000" stroke-width="0.35">D</text>
<text x="27.2" y="45.5" font-size="8.4" text-anchor="middle" font-weight="normal" font-style="normal" fill="#1c1c1c" stroke="#1c1c1c" stroke-width="0.3" >BCCA</text>
<text x="75.5" y="23" font-size="8.4" text-anchor="middle" font-weight="normal" font-style="normal" fill="#1c1c1c" stroke="#1c1c1c" stroke-width="0.3" >Guo</text>
<text x="151.6" y="25" font-size="8.4" text-anchor="middle" font-weight="normal" font-style="normal" fill="#1c1c1c" stroke="#1c1c1c" stroke-width="0.3" >Huet</text>
<text x="202.2" y="46.5" font-size="8.4" text-anchor="middle" font-weight="normal" font-style="normal" fill="#1c1c1c" stroke="#1c1c1c" stroke-width="0.3" >Bödör</text>
<text x="79.8" y="47.3" font-size="8.4" text-anchor="middle" font-weight="normal" font-style="normal" fill="#1c1c1c" stroke="#1c1c1c" stroke-width="0.3" >13</text>
<text x="149.5" y="47.5" font-size="8.4" text-anchor="middle" font-weight="normal" font-style="normal" fill="#1c1c1c" stroke="#1c1c1c" stroke-width="0.3" >949</text>
<text x="43.2" y="89.5" font-size="8.4" text-anchor="middle" font-weight="normal" font-style="normal" fill="#1c1c1c" stroke="#1c1c1c" stroke-width="0.3" >19</text>
<text x="71.7" y="67.8" font-size="8.4" text-anchor="middle" font-weight="normal" font-style="normal" fill="#1c1c1c" stroke="#1c1c1c" stroke-width="0.3" >1</text>
<text x="117" y="65.1" font-size="8.4" text-anchor="middle" font-weight="normal" font-style="normal" fill="#1c1c1c" stroke="#1c1c1c" stroke-width="0.3" >3</text>
<text x="157" y="67.9" font-size="8.4" text-anchor="middle" font-weight="normal" font-style="normal" fill="#1c1c1c" stroke="#1c1c1c" stroke-width="0.3" >16</text>
<text x="185" y="85.9" font-size="8.4" text-anchor="middle" font-weight="normal" font-style="normal" fill="#1c1c1c" stroke="#1c1c1c" stroke-width="0.3" >36</text>
<text x="93" y="89.7" font-size="8.4" text-anchor="middle" font-weight="normal" font-style="normal" fill="#1c1c1c" stroke="#1c1c1c" stroke-width="0.3" >0</text>
<text x="136.2" y="89.3" font-size="8.4" text-anchor="middle" font-weight="normal" font-style="normal" fill="#1c1c1c" stroke="#1c1c1c" stroke-width="0.3" >4</text>
<text x="73.3" y="125" font-size="8.4" text-anchor="middle" font-weight="normal" font-style="normal" fill="#1c1c1c" stroke="#1c1c1c" stroke-width="0.3" >23</text>
<text x="95" y="133.5" font-size="8.4" text-anchor="middle" font-weight="normal" font-style="normal" fill="#1c1c1c" stroke="#1c1c1c" stroke-width="0.3" >6</text>
<text x="131.9" y="134.2" font-size="8.4" text-anchor="middle" font-weight="normal" font-style="normal" fill="#1c1c1c" stroke="#1c1c1c" stroke-width="0.3" >0</text>
<text x="156.6" y="123.9" font-size="8.4" text-anchor="middle" font-weight="normal" font-style="normal" fill="#1c1c1c" stroke="#1c1c1c" stroke-width="0.3" >6</text>
<text x="114.6" y="158.9" font-size="8.4" text-anchor="middle" font-weight="normal" font-style="normal" fill="#1c1c1c" stroke="#1c1c1c" stroke-width="0.3" >0</text>
<text x="115.2" y="101.4" font-size="6.6" text-anchor="middle" font-weight="bold" font-style="italic" fill="#a01a48"  stroke="#a01a48" stroke-width="0.2">FOXP1</text>
<text x="115.2" y="109.0" font-size="6.6" text-anchor="middle" font-weight="bold" font-style="italic" fill="#a01a48"  stroke="#a01a48" stroke-width="0.2">TCL1A</text>
<text x="115.2" y="117.6" font-size="6.6" text-anchor="middle" font-weight="bold" font-style="italic" fill="#a01a48"  stroke="#a01a48" stroke-width="0.2">RASGRP2</text>
<text x="327.65" y="35.3" font-size="9.8" text-anchor="middle" font-weight="bold" font-style="italic" fill="#111"  stroke="#111" stroke-width="0.25">EZH2</text>
<text x="300.0" y="180.2" font-size="8.3" text-anchor="middle" font-weight="normal" font-style="normal" fill="#1a1a1a" stroke="#1a1a1a" stroke-width="0.3" >wild-type</text>
<text x="355.5" y="180.2" font-size="8.3" text-anchor="middle" font-weight="normal" font-style="normal" fill="#1a1a1a" stroke="#1a1a1a" stroke-width="0.3" >mutated</text>
<text x="452.29999999999995" y="35.3" font-size="9.8" text-anchor="middle" font-weight="bold" font-style="italic" fill="#111"  stroke="#111" stroke-width="0.25">MEF2B</text>
<text x="424.5" y="180.2" font-size="8.3" text-anchor="middle" font-weight="normal" font-style="normal" fill="#1a1a1a" stroke="#1a1a1a" stroke-width="0.3" >wild-type</text>
<text x="480.0" y="180.2" font-size="8.3" text-anchor="middle" font-weight="normal" font-style="normal" fill="#1a1a1a" stroke="#1a1a1a" stroke-width="0.3" >mutated</text>
<text x="328.0" y="62.2" font-size="6.6" text-anchor="middle" font-weight="normal" font-style="normal" fill="#1a1a1a" stroke="#1a1a1a" stroke-width="0.3" >P &lt; 0.001</text>
<text x="453.1" y="62.800000000000004" font-size="6.6" text-anchor="middle" font-weight="normal" font-style="normal" fill="#1a1a1a" stroke="#1a1a1a" stroke-width="0.3" >P &lt; 0.001</text>
<text x="259.6" y="62.3" font-size="7.3" text-anchor="end" font-weight="normal" font-style="normal" fill="#222" stroke="#222" stroke-width="0.3" >11</text>
<text x="259.6" y="101.8" font-size="7.3" text-anchor="end" font-weight="normal" font-style="normal" fill="#222" stroke="#222" stroke-width="0.3" >10</text>
<text x="259.6" y="141.3" font-size="7.3" text-anchor="end" font-weight="normal" font-style="normal" fill="#222" stroke="#222" stroke-width="0.3" >9</text>
<text transform="translate(246.2 103) rotate(-90)" x="0" y="0" font-size="8.65" text-anchor="middle" fill="#1a1a1a" stroke="#1a1a1a" stroke-width="0.3">log2(FOXP1 expression)</text>
<text x="98.3" y="231.0" font-size="9.5" text-anchor="middle" font-weight="bold" font-style="normal" fill="#111"  >H&amp;E</text>
<text x="218.8" y="231.0" font-size="9.5" text-anchor="middle" font-weight="bold" font-style="normal" fill="#111"  >FOXP1 IHC</text>
<text transform="translate(33.4 282.5) rotate(-90)" font-size="9.6" text-anchor="middle" font-weight="bold" fill="#111"><tspan font-style="italic">EZH2</tspan> wild-type</text>
<text transform="translate(33.4 378.5) rotate(-90)" font-size="9.9" text-anchor="middle" font-weight="bold" fill="#111"><tspan font-style="italic">EZH2</tspan> mutated</text>
<text x="43" y="324.40000000000003" font-size="4.3" text-anchor="start" font-weight="bold" font-style="normal" fill="#2a1f33"  >100 µm</text>
<text x="43" y="419.8" font-size="4.3" text-anchor="start" font-weight="bold" font-style="normal" fill="#2a1f33"  >100 µm</text>
<text x="163" y="324.40000000000003" font-size="4.3" text-anchor="start" font-weight="bold" font-style="normal" fill="#2a1f33"  >200 µm</text>
<text x="163" y="419.8" font-size="4.3" text-anchor="start" font-weight="bold" font-style="normal" fill="#2a1f33"  >200 µm</text>
<text x="326.3" y="401.3" font-size="7.8" text-anchor="end" font-weight="normal" font-style="normal" fill="#1a1a1a" stroke="#1a1a1a" stroke-width="0.3" >0</text>
<text x="326.3" y="357.3" font-size="7.8" text-anchor="end" font-weight="normal" font-style="normal" fill="#1a1a1a" stroke="#1a1a1a" stroke-width="0.3" >10</text>
<text x="326.3" y="313.3" font-size="7.8" text-anchor="end" font-weight="normal" font-style="normal" fill="#1a1a1a" stroke="#1a1a1a" stroke-width="0.3" >20</text>
<text x="326.3" y="269.3" font-size="7.8" text-anchor="end" font-weight="normal" font-style="normal" fill="#1a1a1a" stroke="#1a1a1a" stroke-width="0.3" >30</text>
<text x="326.3" y="225.3" font-size="7.8" text-anchor="end" font-weight="normal" font-style="normal" fill="#1a1a1a" stroke="#1a1a1a" stroke-width="0.3" >40</text>
<text x="347.5" y="420.5" font-size="7.8" text-anchor="middle" font-weight="normal" font-style="normal" fill="#1a1a1a" stroke="#1a1a1a" stroke-width="0.3" >0</text>
<text x="362.5" y="420.5" font-size="7.8" text-anchor="middle" font-weight="normal" font-style="normal" fill="#1a1a1a" stroke="#1a1a1a" stroke-width="0.3" >10</text>
<text x="377.5" y="420.5" font-size="7.8" text-anchor="middle" font-weight="normal" font-style="normal" fill="#1a1a1a" stroke="#1a1a1a" stroke-width="0.3" >20</text>
<text x="392.5" y="420.5" font-size="7.8" text-anchor="middle" font-weight="normal" font-style="normal" fill="#1a1a1a" stroke="#1a1a1a" stroke-width="0.3" >30</text>
<text x="407.5" y="420.5" font-size="7.8" text-anchor="middle" font-weight="normal" font-style="normal" fill="#1a1a1a" stroke="#1a1a1a" stroke-width="0.3" >40</text>
<text x="422.5" y="420.5" font-size="7.8" text-anchor="middle" font-weight="normal" font-style="normal" fill="#1a1a1a" stroke="#1a1a1a" stroke-width="0.3" >50</text>
<text x="437.5" y="420.5" font-size="7.8" text-anchor="middle" font-weight="normal" font-style="normal" fill="#1a1a1a" stroke="#1a1a1a" stroke-width="0.3" >60</text>
<text x="452.5" y="420.5" font-size="7.8" text-anchor="middle" font-weight="normal" font-style="normal" fill="#1a1a1a" stroke="#1a1a1a" stroke-width="0.3" >70</text>
<text x="467.5" y="420.5" font-size="7.8" text-anchor="middle" font-weight="normal" font-style="normal" fill="#1a1a1a" stroke="#1a1a1a" stroke-width="0.3" >80</text>
<text x="482.5" y="420.5" font-size="7.8" text-anchor="middle" font-weight="normal" font-style="normal" fill="#1a1a1a" stroke="#1a1a1a" stroke-width="0.3" >90</text>
<text x="497.5" y="420.5" font-size="7.8" text-anchor="middle" font-weight="normal" font-style="normal" fill="#1a1a1a" stroke="#1a1a1a" stroke-width="0.3" >100</text>
<text x="422.9" y="433.7" font-size="8.65" text-anchor="middle" font-weight="normal" font-style="normal" fill="#1a1a1a" stroke="#1a1a1a" stroke-width="0.3" >FOXP1 IHC % cells positive</text>
<text transform="translate(311.8 312.5) rotate(-90)" font-size="8.7" text-anchor="middle" fill="#1a1a1a" stroke="#1a1a1a" stroke-width="0.3">Count</text>
<text x="462.4" y="231.9" font-size="7.75" text-anchor="start" font-weight="normal" font-style="normal" fill="#1e1e1e" stroke="#1e1e1e" stroke-width="0.3" >FOXP1 IHC</text>
<text x="462.4" y="241.5" font-size="7.75" text-anchor="start" font-weight="normal" font-style="normal" fill="#1e1e1e" stroke="#1e1e1e" stroke-width="0.3" >Intensity</text>
<text x="472.4" y="252.89999999999998" font-size="7.6" text-anchor="start" font-weight="normal" font-style="normal" fill="#222" stroke="#222" stroke-width="0.3" >0</text>
<text x="472.4" y="263.59999999999997" font-size="7.6" text-anchor="start" font-weight="normal" font-style="normal" fill="#222" stroke="#222" stroke-width="0.3" >1</text>
<text x="472.4" y="274.3" font-size="7.6" text-anchor="start" font-weight="normal" font-style="normal" fill="#222" stroke="#222" stroke-width="0.3" >2</text>
<text x="472.4" y="285.0" font-size="7.6" text-anchor="start" font-weight="normal" font-style="normal" fill="#222" stroke="#222" stroke-width="0.3" >3</text>
</svg></body></html>
